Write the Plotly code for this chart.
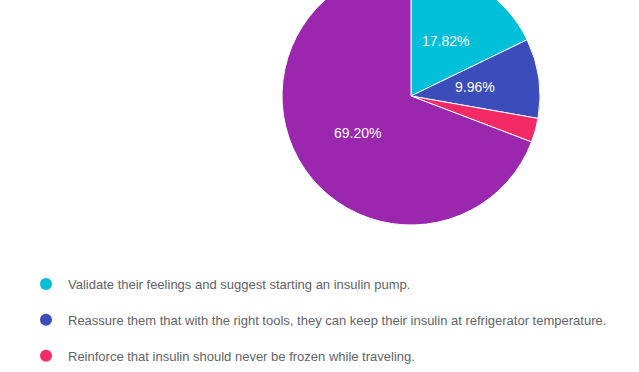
import math
import plotly.graph_objects as go

categories = [
    "Validate their feelings and suggest starting an insulin pump.",
    "Reassure them that with the right tools, they can keep their insulin at refrigerator temperature.",
    "Reinforce that insulin should never be frozen while traveling.",
    "Other responses",
]
percent_values = [17.82, 9.96, 3.02, 69.20]
colors = ["#00BFD8", "#3B4CBB", "#F42A65", "#9B27AF"]
min_label_pct = 5.0
legend_visible_count = 3  # the 4th legend entry lies below the visible window

W, H = 639, 460
SHIFT = 33  # top of pie is cropped in the reference
CX, CY, R = 411, 129, 129  # pie centre / radius in figure px
FONT = "Arial, 'Liberation Sans', sans-serif"

fig = go.Figure()
fig.add_trace(go.Pie(
    labels=categories,
    values=percent_values,
    textinfo="none",
    marker=dict(colors=colors, line=dict(color="white", width=1)),
    sort=False,
    direction="clockwise",
    rotation=0,
    showlegend=False,
    hoverinfo="skip",
    domain=dict(x=[(CX - R) / W, (CX + R) / W], y=[1 - (CY + R) / H, 1 - (CY - R) / H]),
))

# percentage labels at half radius along each slice's mid-angle
total = sum(percent_values)
cum = 0.0
for v in percent_values:
    mid = (cum + v / 2) / total * 2 * math.pi
    cum += v
    if v < min_label_pct:
        continue
    px = CX + 0.5 * R * math.sin(mid)
    py = CY - 0.5 * R * math.cos(mid)
    fig.add_annotation(
        x=px / W, y=1 - py / H, xref="paper", yref="paper",
        text=f"{v:.2f}%", showarrow=False, xanchor="center", yanchor="middle",
        font=dict(family=FONT, size=14, color="white"),
    )

for i, (cat, col) in enumerate(zip(categories, colors)):
    fig.add_trace(go.Scatter(
        x=[None], y=[None], mode="markers", name=cat,
        marker=dict(color=col, size=12, symbol="circle"),
        legendgroup=f"g{i}", showlegend=i < legend_visible_count, hoverinfo="skip",
    ))

fig.update_layout(
    width=W, height=H,
    margin=dict(l=0, r=0, t=0, b=0),
    paper_bgcolor="white", plot_bgcolor="white",
    xaxis=dict(visible=False), yaxis=dict(visible=False),
    legend=dict(
        x=24 / W, xanchor="left", y=1 - 302 / H, yanchor="top",
        font=dict(family=FONT, size=13, color="#5f6368"),
        tracegroupgap=16, bgcolor="rgba(0,0,0,0)", itemsizing="trace",
        itemwidth=34,
    ),
)

post = (
    "var d=document.getElementById('{plot_id}');"
    "d.style.position='absolute';d.style.left='0px';d.style.top='-%dpx';"
    "document.body.style.overflow='hidden';document.body.style.margin='0';"
    "document.documentElement.style.overflow='hidden';" % SHIFT
)
fig.write_html("out.html", post_script=post)
